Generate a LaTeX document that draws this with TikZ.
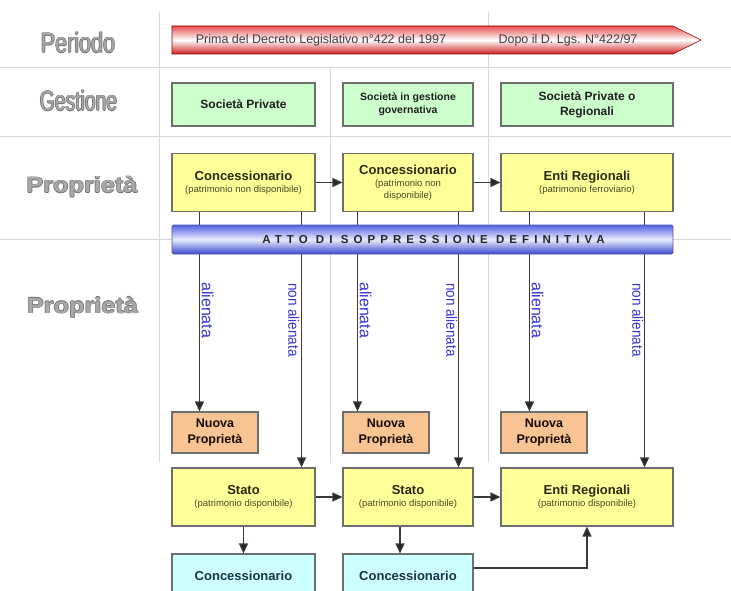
\documentclass[tikz,border=0pt]{standalone}
\usepackage{fontspec}
\setmainfont{Liberation Sans}
\usetikzlibrary{arrows.meta,calc}
\definecolor{gridc}{HTML}{D9D9D9}
\definecolor{bordc}{HTML}{6E6E6E}
\definecolor{linec}{HTML}{3A3A3A}
\definecolor{greenf}{HTML}{CCFFCC}
\definecolor{yellowf}{HTML}{FFFF99}
\definecolor{orangef}{HTML}{F8C494}
\definecolor{cyanf}{HTML}{CCFFFF}
\definecolor{labblue}{HTML}{3535D0}
\definecolor{rowgray}{HTML}{A8A8A8}
\definecolor{rowdark}{HTML}{707070}
\definecolor{redt}{HTML}{E85050}
\definecolor{redb}{HTML}{D02020}
\definecolor{bluet}{HTML}{5462E0}
\definecolor{blueb}{HTML}{3A48C8}
\definecolor{bluel}{HTML}{E8ECFF}
\definecolor{ytext}{HTML}{2A2A10}
\definecolor{ysub}{HTML}{4A4A28}
\definecolor{ctext}{HTML}{1E3246}
\newcommand{\ttl}[1]{{\bfseries\fontsize{13}{15}\selectfont #1}}
\newcommand{\sbt}[1]{{\color{ysub}\fontsize{9.5}{12}\selectfont #1}}
\newcommand{\embtext}[5]{%
  \foreach \dx/\dy [count=\k] in {-0.7/0,0.7/0,0/-0.7,0/0.7}{%
    \node[#4,text=rowdark] (#1s\k) at (#2+\dx,#3+\dy) {#5};}%
  \node[#4,text=rowgray] (#1) at (#2,#3) {#5};}
\begin{document}
\begin{tikzpicture}[x=1pt,y=-1pt,
  box/.style={draw=bordc,line width=1.1pt,inner sep=0pt,align=center},
  gbox/.style={box,fill=greenf,minimum height=43pt,text=black!88},
  ybox/.style={box,fill=yellowf,minimum height=57.5pt,text=ytext,font=\fontsize{9.5}{12}\selectfont},
  obox/.style={box,fill=orangef,minimum width=86pt,minimum height=41pt,text=black!80!orange!40!black,
    font=\bfseries\fontsize{12.5}{16}\selectfont},
  cbox/.style={box,fill=cyanf,minimum height=43pt,text=ctext,font=\bfseries\fontsize{13}{15}\selectfont},
  arr/.style={draw=linec,line width=1.2pt,-{Triangle[length=10pt,width=9pt,fill=black!85]}},
  gridl/.style={draw=gridc,line width=1pt},
  vlab/.style={text=labblue,font=\fontsize{16}{16}\selectfont,rotate=-90,inner sep=0pt},
  vlabn/.style={text=labblue,font=\fontsize{15}{15}\selectfont,rotate=-90,xscale=0.9,inner sep=0pt},
  rowlab/.style={anchor=base,inner sep=0pt,font=\fontsize{28}{30}\selectfont},
  rowlabb/.style={anchor=base,inner sep=0pt,font=\bfseries\fontsize{22}{24}\selectfont,xscale=1.15},
  arrtxt/.style={inner sep=0pt,text=black!75,font=\fontsize{12.5}{14}\selectfont}]
\useasboundingbox (0,0) rectangle (731,591);
\clip (0,0) rectangle (731,591);
% grid
\draw[gridl] (0,68) -- (731,68);
\draw[gridl] (0,137) -- (731,137);
\draw[gridl] (0,239) -- (731,239);
\draw[gridl] (159,12) -- (159,463);
\draw[gridl] (488,12) -- (488,463);
\draw[gridl] (330,68) -- (330,463);
% row labels
\embtext{lper}{78}{53}{rowlab,xscale=0.77}{Periodo}
\embtext{lges}{78.5}{111}{rowlab,xscale=0.69}{Gestione}
\embtext{lpro}{82}{193}{rowlabb}{Proprietà}
\embtext{lprob}{82.5}{313}{rowlabb}{Proprietà}
% period arrow
\shade[top color=redt,bottom color=redb,middle color=white,draw=red!55!black,line width=0.6pt]
  (172,26) -- (673,26) -- (701,40) -- (673,54) -- (172,54) -- cycle;
\node[arrtxt] (t1) at (321,40) {Prima del Decreto Legislativo n°422 del 1997};
\node[arrtxt] (t2) at (568,40) {Dopo il D. Lgs. N°422/97};
% gestione
\node[gbox,minimum width=143pt,font=\bfseries\fontsize{12}{14}\selectfont] (G1) at (243.5,104.5) {Società Private};
\node[gbox,minimum width=130pt,font=\bfseries\fontsize{10.5}{13}\selectfont] (G2) at (408,104.5) {Società in gestione\\governativa};
\node[gbox,minimum width=172pt,font=\bfseries\fontsize{12}{15}\selectfont] (G3) at (587,104.5) {Società Private o\\Regionali};
% proprieta top
\node[ybox,minimum width=143pt] (Y1) at (243.5,182.5) {\ttl{Concessionario}\\\sbt{(patrimonio non disponibile)}};
\node[ybox,minimum width=130pt] (Y2) at (408,182.5) {\ttl{Concessionario}\\\sbt{(patrimonio non}\\\sbt{disponibile)}};
\node[ybox,minimum width=172pt] (Y3) at (587,182.5) {\ttl{Enti Regionali}\\\sbt{(patrimonio ferroviario)}};
% nuova proprieta
\node[obox] (N1) at (215,432.5) {Nuova\\Proprietà};
\node[obox] (N2) at (386,432.5) {Nuova\\Proprietà};
\node[obox] (N3) at (544,432.5) {Nuova\\Proprietà};
% bottom row
\node[ybox,minimum width=143pt,minimum height=58pt] (S1) at (243.5,497) {\ttl{Stato}\\\sbt{(patrimonio disponibile)}};
\node[ybox,minimum width=130pt,minimum height=58pt] (S2) at (408,497) {\ttl{Stato}\\\sbt{(patrimonio disponibile)}};
\node[ybox,minimum width=172pt,minimum height=58pt] (E2) at (587,497) {\ttl{Enti Regionali}\\\sbt{(patrimonio disponibile)}};
\node[cbox,minimum width=143pt] (C1) at (243.5,575.5) {Concessionario};
\node[cbox,minimum width=130pt] (C2) at (408,575.5) {Concessionario};
% connectors
\draw[arr] (Y1) -- (Y2);
\draw[arr] (Y2) -- (Y3);
\draw[arr] ([xshift=28pt]Y1.south west) -- ([xshift=28pt]N1.north west);
\draw[arr] ([xshift=-14pt]Y1.south east) -- ([xshift=-14pt]S1.north east);
\draw[arr] ([xshift=15pt]Y2.south west) -- ([xshift=15pt]N2.north west);
\draw[arr] ([xshift=-15pt]Y2.south east) -- ([xshift=-15pt]S2.north east);
\draw[arr] ([xshift=29pt]Y3.south west) -- ([xshift=29pt]N3.north west);
\draw[arr] ([xshift=-29pt]Y3.south east) -- ([xshift=-29pt]E2.north east);
\draw[arr] (S1) -- (S2);
\draw[arr] (S2) -- (E2);
\draw[arr] (S1) -- (C1);
\draw[arr] ([xshift=-8pt]S2.south) -- ([xshift=-8pt]C2.north);
\draw[arr] ([yshift=7.5pt]C2.east) -| (E2.south);
% vertical labels
\node[vlab,anchor=south west] (al1) at (201.5,282) {alienata};
\node[vlabn,anchor=north west] (na1) at (299.5,283) {non alienata};
\node[vlab,anchor=south west] (al2) at (359.5,282) {alienata};
\node[vlabn,anchor=north west] (na2) at (457.5,283) {non alienata};
\node[vlab,anchor=south west] (al3) at (531.5,282) {alienata};
\node[vlabn,anchor=north west] (na3) at (643.5,283) {non alienata};
% bar
\node[draw=blue!35!gray,line width=0.8pt,top color=bluet,bottom color=blueb,middle color=bluel,
  minimum width=501pt,minimum height=29pt,inner sep=0pt,rounded corners=1.5pt,text=black!85,
  font=\bfseries\fontsize{11.5}{13}\selectfont] (bar) at (422.5,239.5)
  {\hspace*{22pt}\addfontfeatures{LetterSpace=44}ATTO DI SOPPRESSIONE DEFINITIVA};
\end{tikzpicture}
\end{document}
